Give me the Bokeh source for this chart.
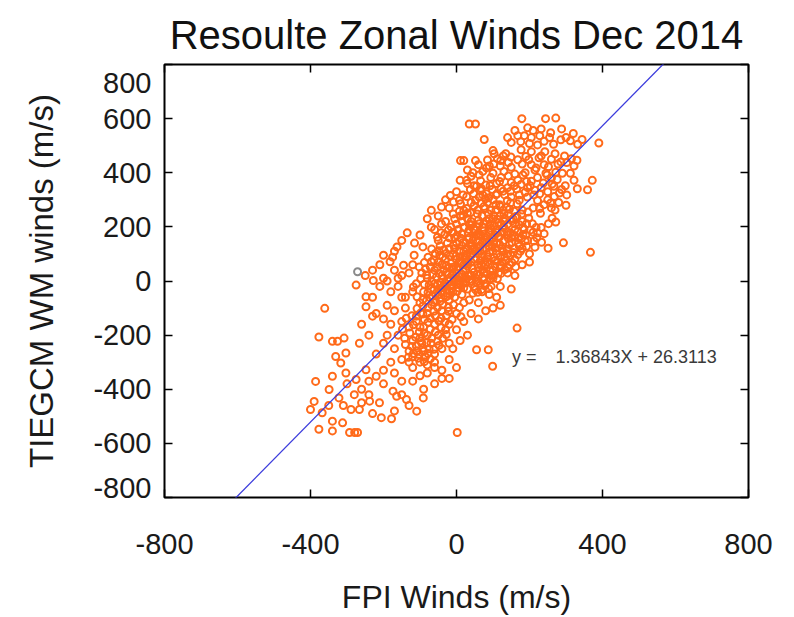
from bokeh.plotting import figure
from bokeh.models import LinearAxis, FixedTicker, Label, Title, Range1d
from bokeh.embed import file_html
from bokeh.resources import INLINE

# ---------------- data ----------------
fpi_winds = [
    35, 52, 179, 244, 272, 288, 76, 390, 344, 140,
    168, 186, 205, 228, 255, 258, 300, 312, 332, 150,
    176, 200, 222, 240, 266, 286, 320, 210, 195, 160,
    232, 11, 20, 52, 85, 103, 121, 149, 177, 205,
    242, 315, 330, 296, 270, 190, 100, 135, 226, 260,
    286, 322, 240, 180, 150, 120, 90, 60, 30, 372,
    331, 359, 290, 276, 267, 40, 66, 94, 122, 150,
    177, 205, 232, 260, 30, 55, 80, 110, 140, 165,
    195, 215, 250, 282, 302, 10, 45, 72, 100, 130,
    160, 188, 215, 245, 205, -17, 11, 47, 79, 111,
    139, 166, 194, 222, 250, 280, 300, -69, -41, -9,
    20, 57, 94, 130, 166, 196, 230, 260, 85, 40,
    120, 150, -30, 0, 65, 100, 210, 240, 270, -50,
    -20, 30, 75, 145, 180, 293, 367, 233, 251, 215,
    200, 180, -135, -69, -41, -9, 20, 47, 75, 103,
    130, 160, 185, 210, 240, -100, -50, -20, 0, 30,
    60, 90, 115, 140, 170, 195, 220, -80, -60, -30,
    10, 40, 70, 100, 130, 155, 180, -150, -115, -170,
    -200, -163, -182, -145, -116, -92, -69, -46, -20, 0,
    20, 40, 60, 80, 100, 120, 140, 160, 180, 200,
    -60, -40, -20, 0, 20, 40, 60, 80, 100, 120,
    140, 160, -80, -60, -40, -20, 0, 20, 40, 60,
    80, 100, 120, 150, -90, -70, -50, -30, -10, 10,
    30, 50, 70, 90, 110, -110, -130, -150, -170, -190,
    -210, -230, -250, -210, -180, -160, -140, -120, -100, -10,
    10, 30, 50, 70, 90, 110, -30, -50, -15, 5,
    25, 45, 65, 85, 105, 125, 145, -35, -55, -25,
    -5, 15, 35, 55, 75, 95, -45, -15, 5, 25,
    45, 65, -75, -65, -85, -35, -5, 15, 35, 55,
    75, 95, 115, 25, 45, 65, 85, 105, 125, -25,
    -45, -15, 5, 35, 55, 15, -5, 45, 25, 65,
    85, 105, 125, 145, -25, -5, 15, 35, -45, -65,
    5, -10, 30, 50, 70, 90, 110, 130, 150, 170,
    160, 140, 120, 90, 60, 35, 15, -5, 190, 175,
    155, 135, 115, 95, 75, 55, -40, -20, 0, 20,
    -60, -20, 20, 60, 100, 120, -80, -40, 0, 40,
    60, 80, -130, -110, -90, -80, -100, -120, -130, -100,
    -70, -50, -20, 0, 20, -30, -60, -90, -110, -150,
    -180, -200, -230, -170, -140, -190, -220, -95, -110, -85,
    -105, -75, -60, -120, -140, -100, -80, -130, -60, -40,
    -20, 10, 30, -10, -20, 0, -40, -60, -80, -120,
    -150, -170, -160, -200, -220, -180, -200, 166, 55, 87,
    99, -361, -377, -340, -326, -308, -266, -248, -248, -275,
    -230, -260, -240, -190, -150, -160, -386, -400, -390, -377,
    -340, -293, -279, -271, -206, -178, -109, 2, -91, -137,
    -164, -174, -238, -211, -289, -266, -322, -349, -340, -303,
    -275, -248, -220, -368, -340, -312, -331, -317, -303, -300,
    -280, -260, -240, -120, -100, -60, -40, -90, -150, -130,
    -170, -230, -260, -310, -350, -170, -200, -240, -150, -20,
    -200, -175, -228, -120, -95,
]
tiegcm_winds = [
    580, 580, 600, 600, 602, 562, 523, 510, 523, 530,
    537, 537, 530, 537, 530, 548, 530, 518, 505, 512,
    515, 508, 503, 516, 505, 522, 545, 556, 566, 556,
    562, 445, 445, 445, 447, 470, 445, 458, 485, 478,
    478, 452, 446, 462, 470, 460, 482, 470, 455, 450,
    440, 425, 430, 432, 420, 425, 425, 430, 410, 372,
    341, 337, 398, 375, 350, 387, 370, 382, 382, 364,
    357, 369, 345, 380, 360, 350, 355, 360, 345, 340,
    345, 335, 330, 325, 318, 372, 400, 405, 398, 405,
    395, 400, 410, 398, 430, 316, 285, 322, 304, 322,
    297, 285, 310, 297, 300, 290, 280, 261, 273, 248,
    261, 248, 261, 248, 236, 255, 250, 270, 290, 290,
    275, 310, 300, 330, 335, 300, 270, 282, 262, 240,
    270, 250, 275, 265, 262, 141, 106, 143, 121, 125,
    100, 120, 178, 199, 211, 180, 199, 190, 211, 205,
    199, 211, 190, 180, 175, 170, 150, 160, 210, 230,
    170, 180, 165, 170, 160, 150, 160, 230, 190, 220,
    240, 220, 240, 230, 220, 230, 220, 150, 140, 110,
    95, 126, 71, 58, 95, 126, 71, 95, 120, 140,
    110, 130, 100, 120, 110, 90, 100, 80, 60, 70,
    40, 60, 50, 80, 60, 70, 50, 60, 40, 50,
    30, 20, 10, -10, 20, 0, 30, 10, 20, 0,
    -10, 10, -20, -30, -40, -30, -50, -20, -40, -10,
    -30, -20, -40, -50, -60, -10, 30, 20, 40, 0,
    60, 40, 20, -20, -40, -20, -60, -40, -80, 100,
    90, 100, 120, 140, 150, 140, 80, 70, 65, 50,
    40, 45, 75, 90, 75, 120, 135, 40, 15, 25,
    10, 25, 5, 25, 30, -20, -5, -15, -25, -5,
    -45, -15, -15, 25, 45, 115, 160, 175, 160, 200,
    185, 195, 215, 140, 150, 125, 165, 170, 180, 140,
    130, 200, 190, 190, 170, 130, 120, 100, 85, 110,
    70, 55, 70, 60, -45, -60, -50, -70, -75, -55,
    0, 45, 55, 80, 90, 105, 100, 150, 160, 140,
    190, 210, 240, 230, 225, 210, 220, 230, 170, 110,
    105, 75, 30, 20, 5, -5, -25, -35, -10, -25,
    -80, -70, -80, -80, -100, -90, -120, -110, -120, -120,
    -140, -110, -170, -130, -260, -200, -170, -280, -260, -210,
    -230, -200, -160, -180, -150, -180, -160, -170, -150, -150,
    -160, -140, -130, -110, -100, -90, -120, -230, -240, -280,
    -285, -250, -270, -220, -235, -300, -310, -300, -300, -250,
    -230, -220, -200, -250, -290, -320, -330, -320, -340, -320,
    -290, -250, -200, -230, -270, -300, -330, -174, -254, -254,
    -315, -101, -207, -223, -223, -211, -230, -58, -95, -15,
    -60, -160, -200, -200, -60, 10, -371, -475, -445, -548,
    -554, -560, -560, -560, -505, -509, -481, -560, -432, -438,
    -426, -407, -444, -450, -475, -475, -432, -401, -352, -340,
    -364, -328, -352, -487, -518, -524, -279, -303, -266, -380,
    -420, -400, -370, -370, -350, -380, -360, -400, -420, -460,
    -480, -490, -450, -460, -460, -340, -380, -420, -370, -360,
    10, 88, 2, 60, 30,
]
# dense core of the cloud
fpi_core = [
    -52, -38, -28, -12, 2, 12, 28, 38, 52, 62,
    72, 88, 98, 108, 118, 128, 138, 148, 158, 168,
    -62, -48, -32, -18, -8, 8, 18, 32, 48, 58,
    68, 78, 92, 102, 112, 122, 132, 142, 152, 162,
    -72, -58, -42, -28, -12, 2, 18, 28, 42, 52,
    62, 72, 82, 92, 102, 112, 88, 78, 68, 58,
    -2, 8, 18, 28, 38, 48, 58, 68, 78, 88,
    98, 108, 118, 128, 138, 148, 158, 168, 178, 188,
    -18, -28, -38, -48, -58, -68, -8, 2, 12, 22,
    32, 42, 52, 62, 72, 82, 92, 102, 112, 122,
    132, 142, 152, 162, 172, 182, 192, 202, -12, -22,
    -32, -42, -52, 8, 18, 28, 38, 48, 58, 68,
    78, 88, 108, 118, 138, 158, 178, 198, 208, 218,
    -82, -92, -78, -68, -52, -38, -22, -8, 8, -98,
    -88, -72, -58, -42, -28, -12, -118, -102, -88, -72,
    -58, -42, -28, -112, -98, -82, -68, -52, -38, -122,
    -108, -92, -78, -62, -48, -118, -102, -88, -72, -132,
    -142, -128, -148, -138, -122, -108, -92, -108, -118, -98,
    -82, -72, -88, -102, -78, -62, -52, -42, -22, 12,
    152, 172, 182, 192, 212, 222, 232, 252, 262, 272,
    132, 148, 172, 188, 212, 228, 122, 98, 82, 62,
    -8, 12, 22, 32, 42, 52, 62, 72, 82, 92,
    102, 112, 122, 132, 142, -18, -28, -38, -48, -58,
    -68, -78, -88, -48, -32, -62, -78, -92, -18, 8,
]
tiegcm_core = [
    -12, 8, 32, 22, 42, 68, 72, 92, 108, 128,
    118, 132, 128, 122, 135, 108, 118, 95, 120, 98,
    -32, -28, -8, 12, -2, 18, 38, 22, 32, 62,
    58, 78, 62, 88, 72, 58, 42, 48, 68, 52,
    -62, -48, -42, -58, -28, -38, -8, 8, -2, 12,
    22, 42, 28, 38, 22, 8, -28, -18, -32, -42,
    92, 112, 142, 122, 138, 162, 148, 168, 152, 182,
    158, 188, 162, 198, 182, 178, 168, 182, 158, 148,
    92, 102, 88, 112, 102, 118, 132, 168, 158, 198,
    178, 208, 188, 212, 198, 222, 212, 242, 228, 212,
    232, 248, 222, 238, 208, 198, 212, 188, 178, 188,
    172, 178, 162, 258, 242, 268, 252, 278, 262, 288,
    268, 248, 262, 282, 272, 258, 248, 232, 212, 198,
    -72, -92, -98, -88, -98, -88, -98, -88, -98, -118,
    -142, -138, -128, -138, -128, -142, -162, -188, -192, -178,
    -188, -172, -198, -208, -222, -228, -212, -222, -212, -242,
    -258, -248, -268, -252, -238, -268, -272, -298, -288, -282,
    -212, -192, -178, -138, -128, -102, -68, -58, -22, 8,
    22, 52, 68, 52, 88, 78, 52, -62, -112, -132,
    142, 128, 172, 128, 148, 178, 198, 212, 232, 218,
    318, 332, 318, 328, 318, 322, 342, 338, 322, 310,
    52, -18, 92, 68, 118, -32, 168, 12, 142, 8,
    138, 178, 28, 88, 158, -52, 58, -38, 28, -72,
    -2, -42, -12, -148, -152, -112, -152, -122, -18, 72,
]
# upper part of the cloud (200-470 m/s model winds)
fpi_upper = [
    28, 52, 68, 92, 108, 118, 128, 142, 158, 168,
    182, 192, 202, 222, 238, 248, 262, 272, 218, 232,
    198, 168, 142, 112, 82, 62, 38, 18, 8, -8,
    252, 278, 302, 312, 322, 298, 268, 288, 258, 228,
    172, 148, 128, 108, 88, 72, 48, 28, 102, 128,
]
tiegcm_upper = [
    312, 298, 342, 352, 318, 368, 332, 388, 352, 372,
    392, 368, 352, 382, 362, 392, 358, 402, 418, 462,
    448, 448, 438, 452, 418, 392, 338, 318, 298, 292,
    422, 432, 438, 398, 372, 352, 312, 338, 288, 268,
    298, 288, 262, 282, 308, 318, 352, 372, 432, 462,
]
gray_fpi = [-271]
gray_tiegcm = [34]

fit_slope = 1.36843
fit_intercept = 26.3113

x_ticks = [-800, -400, 0, 400, 800]
y_ticks = [-800, -600, -400, -200, 0, 200, 400, 600, 800]
y_tick_labels = ["-800", "-600", "-400", "-200", "0", "200", "400", "600", "800"]

title_text = "Resoulte Zonal Winds Dec 2014"
x_label = "FPI Winds (m/s)"
y_label = "TIEGCM WM winds (m/s)"

FONT = "Liberation Sans"
ORANGE = "#ff6a1a"

# ---------------- figure ----------------
p = figure(width=794, height=617, output_backend="svg", toolbar_location=None,
           x_range=Range1d(-800, 800), y_range=Range1d(-800, 800),
           min_border_left=164, min_border_right=46, min_border_top=64, min_border_bottom=120,
           background_fill_color="white", border_fill_color="white")
p.grid.visible = False
p.outline_line_color = "black"
p.outline_line_width = 2
p.outline_line_alpha = 1

p.title = Title(text=title_text, align="center", vertical_align="top", text_font=FONT,
                text_font_size="40px", text_font_style="normal", text_color="#111111",
                standoff=12)


def ticks_only(axis):
    axis.major_tick_in = 8
    axis.major_tick_out = 0
    axis.minor_tick_line_color = None
    axis.axis_line_color = None
    axis.major_tick_line_color = "black"
    axis.major_tick_line_width = 1.5
    axis.major_label_text_color = None
    axis.major_label_text_font_size = "1px"
    axis.major_label_standoff = 0


# bottom axis
xa = p.xaxis[0]
xa.ticker = FixedTicker(ticks=x_ticks)
xa.major_tick_in = 8
xa.major_tick_out = 0
xa.minor_tick_line_color = None
xa.axis_line_color = None
xa.major_tick_line_color = "black"
xa.major_tick_line_width = 1.5
xa.major_label_standoff = 36
xa.major_label_text_font = FONT
xa.major_label_text_font_size = "29px"
xa.major_label_text_color = "#1a1a1a"
xa.major_label_overrides = {v: str(v) for v in x_ticks}
xa.axis_label = x_label
xa.axis_label_text_font = FONT
xa.axis_label_text_font_size = "32px"
xa.axis_label_text_font_style = "normal"
xa.axis_label_text_color = "#1a1a1a"
xa.axis_label_standoff = 22

# left axis: tick marks only
ya = p.yaxis[0]
ya.ticker = FixedTicker(ticks=y_ticks)
ticks_only(ya)

# left axis: labels (the end labels sit slightly inside the frame, as in the reference)
label_pos = list(y_ticks)
label_pos[0] = -765
label_pos[-1] = 730
yl = LinearAxis(ticker=FixedTicker(ticks=label_pos))
yl.major_tick_in = 0
yl.major_tick_out = 0
yl.minor_tick_line_color = None
yl.axis_line_color = None
yl.major_label_standoff = 13
yl.major_label_text_font = FONT
yl.major_label_text_font_size = "29px"
yl.major_label_text_color = "#1a1a1a"
yl.major_label_overrides = {v: s for v, s in zip(label_pos, y_tick_labels)}
yl.axis_label = y_label
yl.axis_label_text_font = FONT
yl.axis_label_text_font_size = "33px"
yl.axis_label_text_font_style = "normal"
yl.axis_label_text_color = "#1a1a1a"
yl.axis_label_standoff = 30
p.add_layout(yl, "left")

# top and right axes: inward ticks only
xt = LinearAxis(ticker=FixedTicker(ticks=x_ticks))
ticks_only(xt)
p.add_layout(xt, "above")
yr = LinearAxis(ticker=FixedTicker(ticks=y_ticks))
ticks_only(yr)
p.add_layout(yr, "right")

# scatter
all_fpi = fpi_winds + fpi_core + fpi_upper
all_tiegcm = tiegcm_winds + tiegcm_core + tiegcm_upper
p.scatter(all_fpi, all_tiegcm, marker="circle", size=7,
          fill_color=None, line_color=ORANGE, line_width=2)
p.scatter(gray_fpi, gray_tiegcm, marker="circle", size=7, fill_color=None,
          line_color="#8a8a8a", line_width=2)

# regression line
line_x = [x_ticks[0], x_ticks[-1]]
line_y = [fit_slope * v + fit_intercept for v in line_x]
p.line(line_x, line_y, line_color="#3b3bdc", line_width=1.3)

# equation text
p.add_layout(Label(x=152, y=-280, text="y =", text_font=FONT, text_font_size="18px",
                   text_color="#3a3a3a", text_baseline="middle"))
p.add_layout(Label(x=271, y=-280, text=f"{fit_slope}X + {fit_intercept}", text_font=FONT,
                   text_font_size="18px", text_color="#3a3a3a", text_baseline="middle"))

open("out.html", "w").write(file_html(p, INLINE))
